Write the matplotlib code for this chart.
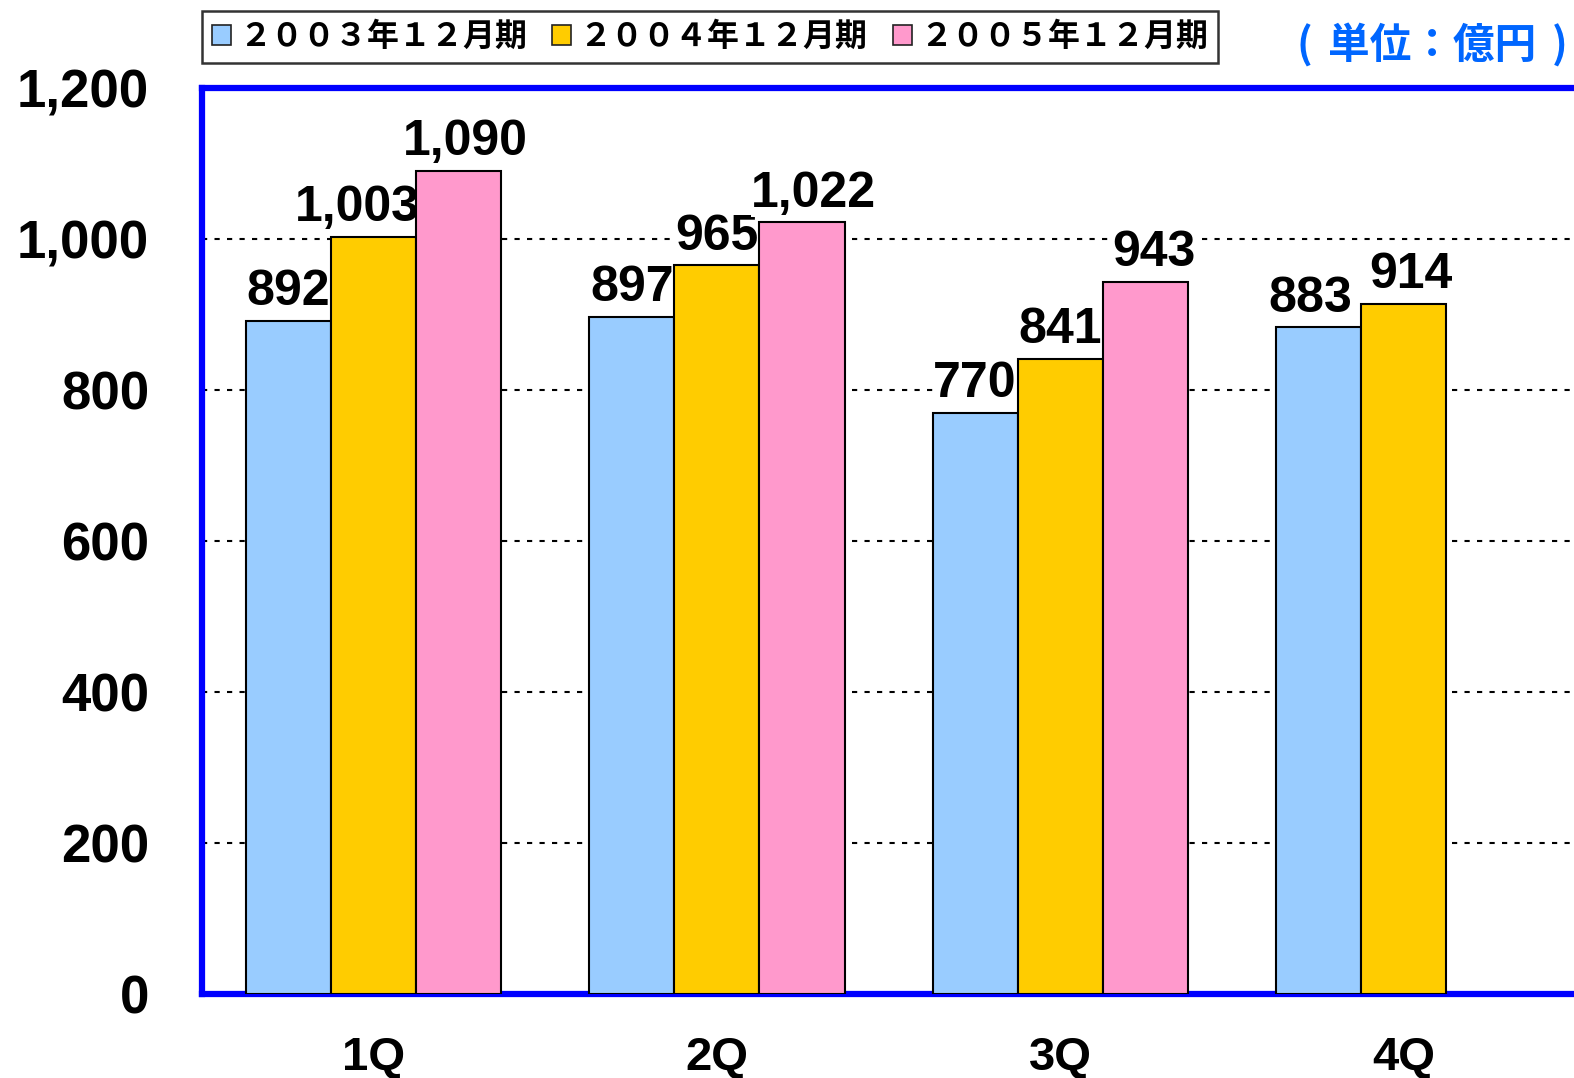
import matplotlib
matplotlib.use('Agg')
import matplotlib.pyplot as plt
from matplotlib.patches import Patch
from matplotlib.ticker import FuncFormatter
import numpy as np

# data (unit: 100 million yen)
quarters = ['1Q', '2Q', '3Q', '4Q']
series_names = ['２００３年１２月期', '２００４年１２月期', '２００５年１２月期']
sales_2003 = [892, 897, 770, 883]
sales_2004 = [1003, 965, 841, 914]
sales_2005 = [1090, 1022, 943, np.nan]
colors = ['#99CCFF', '#FFCC00', '#FF99CC']

# small sideways nudges (points) for labels that were moved in the original
label_nudge = {(1, 0): -12, (2, 0): 5, (2, 1): 8, (2, 2): 6, (0, 3): -6, (1, 3): 5}

plt.rcParams['font.family'] = ['Liberation Sans', 'DejaVu Sans']
plt.rcParams['font.weight'] = 'bold'

fig = plt.figure(figsize=(15.74, 10.78), dpi=100)
ax = fig.add_axes([202/1574, 84/1078, 1380/1574, 906/1078])

x = np.arange(len(quarters))
w = 0.248
all_series = [sales_2003, sales_2004, sales_2005]
for i, vals in enumerate(all_series):
    pos = x + (i - 1) * w
    ax.bar(pos, vals, width=w, color=colors[i], edgecolor='black', linewidth=1.5, zorder=3)
    for j, (px, v) in enumerate(zip(pos, vals)):
        if np.isnan(v):
            continue
        # white box behind labels hides the grid (drawn under the bars)
        ax.annotate(f'{int(v):,}', xy=(px, v), xytext=(label_nudge.get((i, j), 0), 4),
                    textcoords='offset points', ha='center', va='bottom',
                    fontsize=36, fontweight='bold', zorder=2.5,
                    bbox=dict(facecolor='white', edgecolor='none', pad=0))

ax.set_xlim(-0.5, 3.52)
ax.set_ylim(0, 1200)
ax.set_yticks(range(0, 1201, 200))
ax.yaxis.set_major_formatter(FuncFormatter(lambda v, p: f'{int(v):,}'))
ax.set_xticks(x)
ax.set_xticklabels(quarters)
ax.tick_params(axis='y', length=0, pad=38, labelsize=38)
ax.tick_params(axis='x', length=0, pad=30, labelsize=34)

# dotted grid
ax.yaxis.grid(True, color='black', linestyle=(0, (2.5, 3.5)), linewidth=1.5)
ax.set_axisbelow(True)

for s in ax.spines.values():
    s.set_color('#0000FF')
    s.set_linewidth(4.5)

# legend
handles = [Patch(facecolor=c, edgecolor='#222222', linewidth=1.2) for c in colors]
leg = fig.legend(handles, series_names, loc='center', bbox_to_anchor=(0.451, 0.9657),
                 ncol=3, frameon=True, fancybox=False, handlelength=0.6, handleheight=0.6,
                 handletextpad=0.25, columnspacing=0.8, borderpad=0.3,
                 prop={'family': ['Noto Sans CJK JP'], 'size': 23, 'weight': 'bold'})
leg.get_frame().set_edgecolor('black')
leg.get_frame().set_linewidth(1.8)

# unit label, parentheses set apart like the original
unit_kw = dict(va='center', color='#0066FF', fontsize=30, fontweight='bold',
               family=['Noto Sans CJK JP'])
fig.text(1297/1574, 0.957, '(', ha='left', **unit_kw)
fig.text(1432/1574, 0.957, '単位：億円', ha='center', **unit_kw)
fig.text(1568/1574, 0.957, ')', ha='right', **unit_kw)

fig.savefig('out.png', dpi=100)
